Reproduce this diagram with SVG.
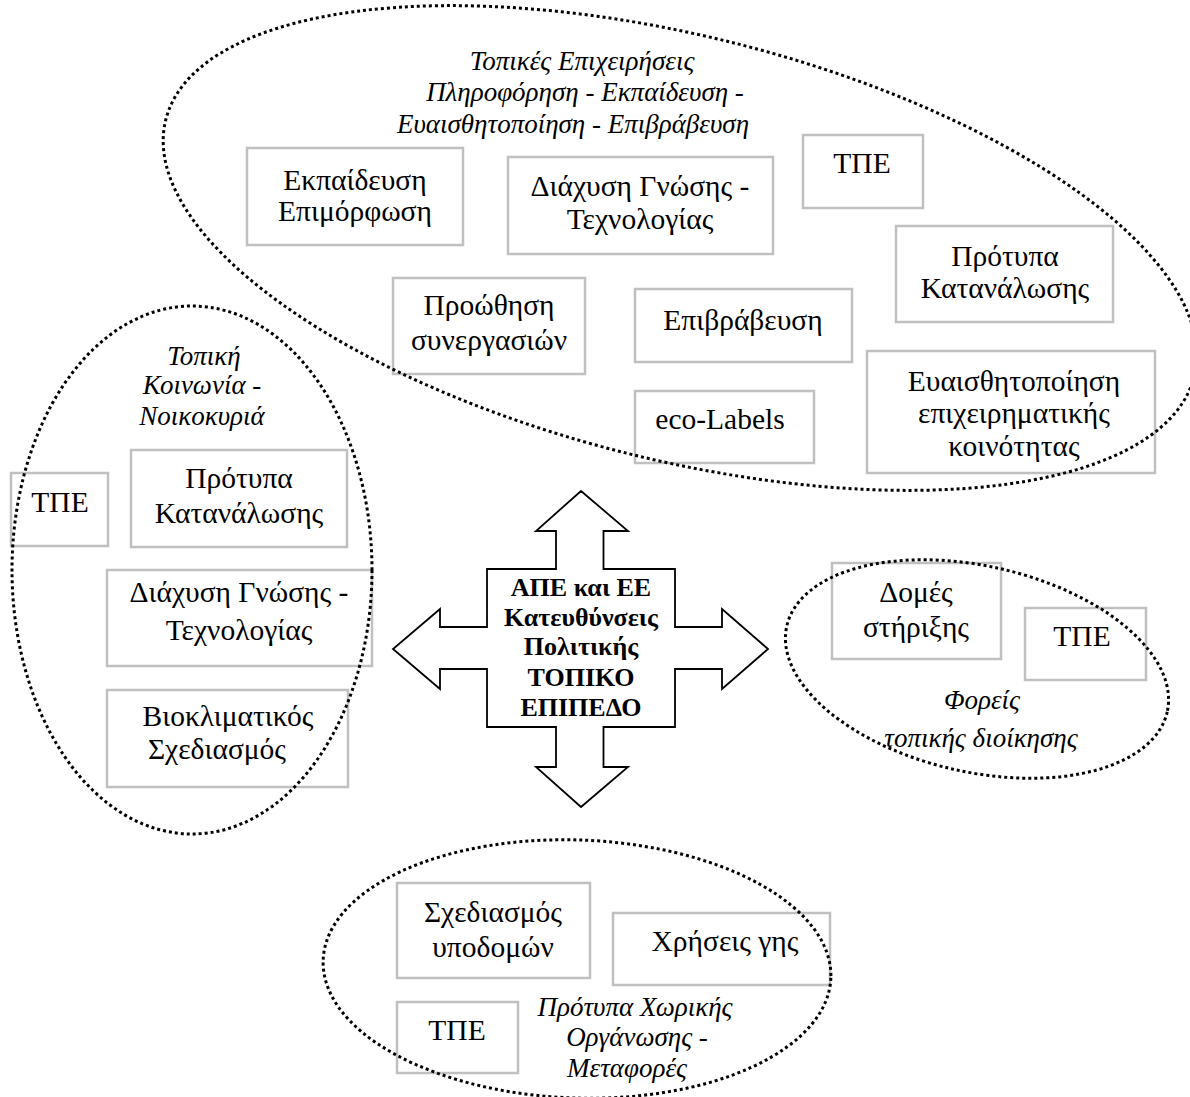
<svg xmlns="http://www.w3.org/2000/svg" width="1190" height="1097" viewBox="0 0 1190 1097">
<style>
.bx{fill:none;stroke:#c0c0c0;stroke-width:2.5}
.t{font-family:"Liberation Serif","Times New Roman",serif;font-size:29.5px;fill:#000;text-anchor:middle}
.i{font-family:"Liberation Serif","Times New Roman",serif;font-size:27px;font-style:italic;fill:#000;text-anchor:middle}
.b{font-family:"Liberation Serif","Times New Roman",serif;font-size:26px;font-weight:bold;fill:#000;text-anchor:middle}
.ell{fill:none;stroke:#000;stroke-width:3;stroke-dasharray:3 3}
</style>
<rect width="1190" height="1097" fill="#fff"/>

<g id="top-cluster">
  <g id="n-ekpaideusi"><rect class="bx" x="247" y="148" width="216" height="97"/><text class="t" x="355" y="190">Εκπαίδευση</text><text class="t" x="355" y="221">Επιμόρφωση</text></g>
  <g id="n-diaxysi-top"><rect class="bx" x="508" y="157" width="265" height="97"/><text class="t" x="640" y="196">Διάχυση Γνώσης -</text><text class="t" x="640" y="229">Τεχνολογίας</text></g>
  <g id="n-tpe-top"><rect class="bx" x="803" y="135" width="120" height="73"/><text class="t" x="862" y="173">ΤΠΕ</text></g>
  <g id="n-protypa-top"><rect class="bx" x="896" y="226" width="217" height="96"/><text class="t" x="1005" y="266">Πρότυπα</text><text class="t" x="1005" y="298">Κατανάλωσης</text></g>
  <g id="n-proothisi"><rect class="bx" x="393" y="278" width="192" height="96"/><text class="t" x="489" y="315">Προώθηση</text><text class="t" x="489" y="350">συνεργασιών</text></g>
  <g id="n-epivraveusi"><rect class="bx" x="635" y="289" width="217" height="73"/><text class="t" x="743" y="330">Επιβράβευση</text></g>
  <g id="n-ecolabels"><rect class="bx" x="635" y="391" width="179" height="72"/><text class="t" x="720" y="429">eco-Labels</text></g>
  <g id="n-euaisthitopoiisi"><rect class="bx" x="867" y="351" width="288" height="122"/><text class="t" x="1014" y="391">Ευαισθητοποίηση</text><text class="t" x="1014" y="423">επιχειρηματικής</text><text class="t" x="1014" y="456">κοινότητας</text></g>
  <g id="top-title"><text class="i" x="582" y="70">Τοπικές Επιχειρήσεις</text><text class="i" x="585" y="101">Πληροφόρηση - Εκπαίδευση -</text><text class="i" x="573" y="133">Ευαισθητοποίηση - Επιβράβευση</text></g>
  <ellipse class="ell" cx="680" cy="248" rx="530" ry="212" transform="rotate(14 680 248)"/>
</g>

<g id="left-cluster">
  <g id="n-tpe-left"><rect class="bx" x="11" y="473" width="97" height="73"/><text class="t" x="60" y="512">ΤΠΕ</text></g>
  <g id="n-protypa-left"><rect class="bx" x="131" y="450" width="216" height="97"/><text class="t" x="239" y="488">Πρότυπα</text><text class="t" x="239" y="523">Κατανάλωσης</text></g>
  <g id="n-diaxysi-left"><rect class="bx" x="107" y="570" width="265" height="96"/><text class="t" x="239" y="602">Διάχυση Γνώσης -</text><text class="t" x="239" y="640">Τεχνολογίας</text></g>
  <g id="n-vioklimatikos"><rect class="bx" x="107" y="690" width="241" height="97"/><text class="t" x="228" y="726">Βιοκλιματικός</text><text class="t" x="217" y="759">Σχεδιασμός</text></g>
  <g id="left-title"><text class="i" x="204" y="365">Τοπική</text><text class="i" x="202" y="394">Κοινωνία -</text><text class="i" x="202" y="425">Νοικοκυριά</text></g>
  <ellipse class="ell" cx="192" cy="570" rx="180" ry="264"/>
</g>

<g id="right-cluster">
  <g id="n-domes"><rect class="bx" x="832" y="563" width="169" height="96"/><text class="t" x="916" y="602">Δομές</text><text class="t" x="916" y="637">στήριξης</text></g>
  <g id="n-tpe-right"><rect class="bx" x="1025" y="608" width="121" height="72"/><text class="t" x="1082" y="646">ΤΠΕ</text></g>
  <g id="right-title"><text class="i" x="982" y="709">Φορείς</text><text class="i" x="981" y="747">τοπικής διοίκησης</text></g>
  <ellipse class="ell" cx="977" cy="669" rx="195" ry="103" transform="rotate(12.7 977 669)"/>
</g>

<g id="bottom-cluster">
  <g id="n-sxediasmos"><rect class="bx" x="397" y="883" width="193" height="95"/><text class="t" x="493" y="922">Σχεδιασμός</text><text class="t" x="493" y="957">υποδομών</text></g>
  <g id="n-xriseis"><rect class="bx" x="613" y="913" width="217" height="72"/><text class="t" x="725" y="951">Χρήσεις γης</text></g>
  <g id="n-tpe-bottom"><rect class="bx" x="397" y="1002" width="121" height="71"/><text class="t" x="457" y="1040">ΤΠΕ</text></g>
  <g id="bottom-title"><text class="i" x="635" y="1016">Πρότυπα Χωρικής</text><text class="i" x="637" y="1046">Οργάνωσης -</text><text class="i" x="627" y="1077">Μεταφορές</text></g>
  <ellipse class="ell" cx="577" cy="969" rx="254" ry="129" transform="rotate(2 577 969)"/>
</g>

<g id="n-center">
  <path d="M581,491 L628,531 L603.5,531 L603.5,569 L675,569 L675,627 L722,627 L722,609 L768,649 L722,689 L722,669 L675,669 L675,727 L603.5,727 L603.5,767 L628,767 L581,807 L536,767 L556,767 L556,727 L487,727 L487,669 L440,669 L440,689 L393,649 L440,609 L440,627 L487,627 L487,569 L556,569 L556,531 L536,531 Z" fill="#fff" stroke="#000" stroke-width="1.8" stroke-linejoin="miter"/>
  <text class="b" x="581" y="596">ΑΠΕ και ΕΕ</text>
  <text class="b" x="581" y="626">Κατευθύνσεις</text>
  <text class="b" x="581" y="655">Πολιτικής</text>
  <text class="b" x="581" y="686">ΤΟΠΙΚΟ</text>
  <text class="b" x="581" y="716">ΕΠΙΠΕΔΟ</text>
</g>

<g id="connectors"></g>
</svg>
